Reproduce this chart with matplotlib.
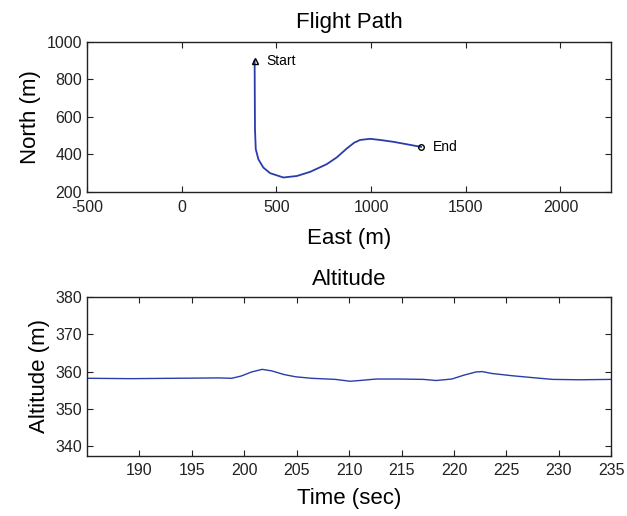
import matplotlib
matplotlib.use("Agg")
import matplotlib.pyplot as plt
import numpy as np

plt.rcParams['font.family'] = ['Liberation Sans', 'DejaVu Sans']
plt.rcParams['axes.unicode_minus'] = False

# Flight path (east, north) in metres
east = [385, 386, 387, 391, 405, 431, 467, 537, 608, 678, 766, 820, 870, 910,
        942, 995, 1048, 1118, 1189, 1264]
north = [900, 700, 534, 428, 374, 330, 300, 277, 285, 307, 348, 385, 430, 462,
         477, 483, 477, 467, 454, 440]

# Altitude over time
time = [185, 189.2, 197.6, 198.8, 199.7, 200.7, 201.7, 202.6, 203.8, 204.9,
        206.4, 208.7, 210.1, 211.0, 212.6, 214.8, 217.1, 218.3, 219.8, 220.9,
        222.1, 222.7, 223.6, 225.5, 227.8, 229.4, 232.0, 235]
alt = [358.2, 358.1, 358.3, 358.2, 358.8, 359.9, 360.6, 360.2, 359.2, 358.6,
       358.2, 357.9, 357.4, 357.6, 358.0, 358.0, 357.9, 357.6, 358.0, 359.0,
       359.9, 360.0, 359.5, 358.9, 358.3, 357.9, 357.8, 357.9]

line_col = '#2a3caa'

fig = plt.figure(figsize=(6.27, 5.16), dpi=100)
ax1 = fig.add_axes([0.1388, 0.628, 0.836, 0.291])
ax2 = fig.add_axes([0.1388, 0.117, 0.836, 0.307])

ax1.plot(east, north, color=line_col, lw=1.3)
ax1.plot(east[0], north[0], marker='^', ms=4, mfc='none', mec='black', mew=1)
ax1.plot(east[-1], north[-1], marker='o', ms=4, mfc='none', mec='black', mew=1)
ax1.text(east[0] + 63, north[0], 'Start', fontsize=10, va='center')
ax1.text(east[-1] + 63, north[-1], 'End', fontsize=10, va='center')
ax1.set_xlim(-500, 2268)
ax1.set_ylim(200, 1000)
ax1.set_xticks([-500, 0, 500, 1000, 1500, 2000])
ax1.set_yticks([200, 400, 600, 800, 1000])
ax1.set_xlabel('East (m)', fontsize=16, labelpad=10)
ax1.set_ylabel('North (m)', fontsize=16)
ax1.set_title('Flight Path', fontsize=16, pad=10)

ax2.plot(time, alt, color=line_col, lw=1.0)
ax2.set_xlim(185, 235)
ax2.set_ylim(337.4, 380)
ax2.set_xticks(range(190, 236, 5))
ax2.set_yticks([340, 350, 360, 370, 380])
ax2.set_xlabel('Time (sec)', fontsize=16, labelpad=7)
ax2.set_ylabel('Altitude (m)', fontsize=16)
ax2.set_title('Altitude', fontsize=16, pad=9)

for ax in (ax1, ax2):
    ax.tick_params(direction='in', top=True, right=True, labelsize=11.5,
                   length=4, width=0.8, colors='#222222')
    ax.tick_params(axis='x', pad=5.5)
    for sp in ax.spines.values():
        sp.set_linewidth(1.0)
        sp.set_color('#222222')

fig.savefig('out.png', dpi=100)
